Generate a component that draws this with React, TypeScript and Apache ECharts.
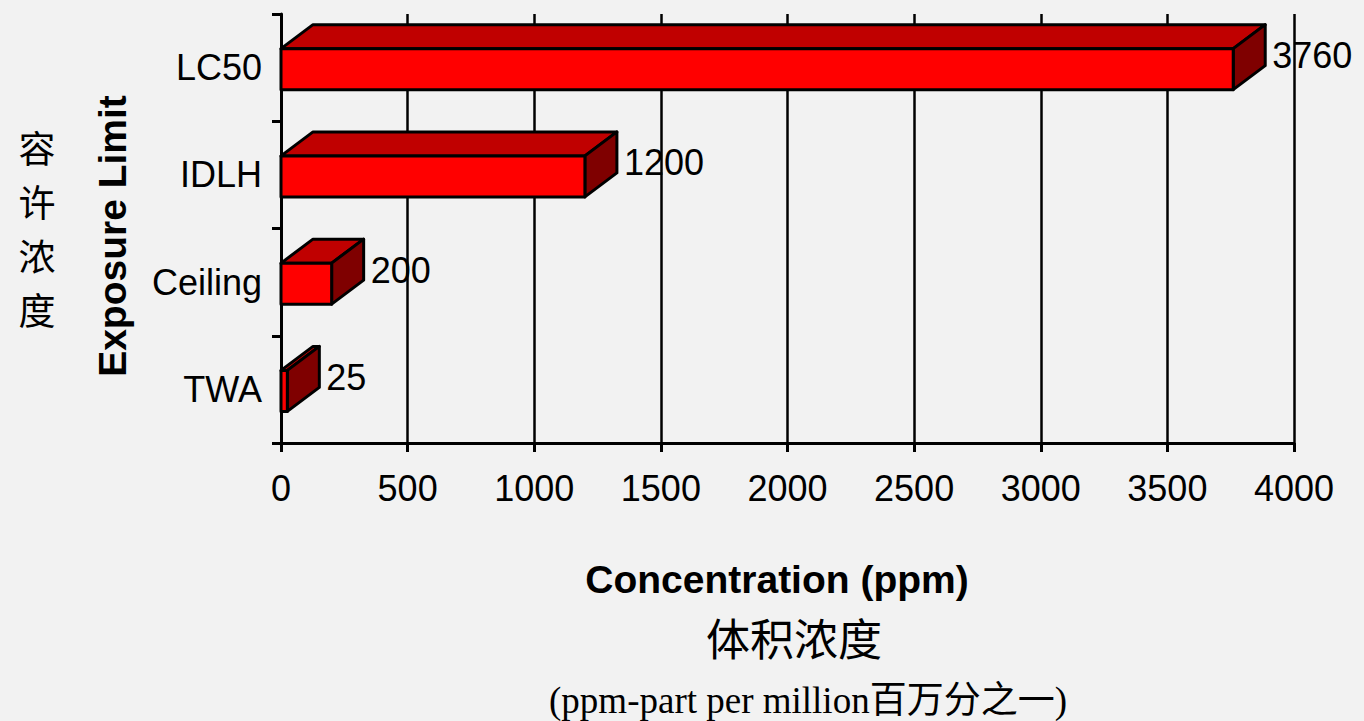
import React, { useEffect, useRef } from "react";
import * as echarts from "echarts";

const categories = ["TWA", "Ceiling", "IDLH", "LC50"];
const values = [25, 200, 1200, 3760];
const xTicks = { min: 0, max: 4000, interval: 500 };
const yTitle = "Exposure Limit";
const yTitleCn = ["容", "许", "浓", "度"];
const xTitle = "Concentration (ppm)";
const xTitleCn = "体积浓度";
const xNote = "(ppm-part per million百万分之一)";

const SANS = "'Liberation Sans', Arial, sans-serif";
const CJK = "'Noto Sans CJK SC', sans-serif";
const SERIF = "'Liberation Serif', 'Noto Sans CJK SC', serif";

export default function App() {
  const ref = useRef<HTMLDivElement>(null);
  useEffect(() => {
    if (!ref.current) return;
    const chart = echarts.init(ref.current, undefined, { renderer: "svg" });
    const dx = 32;
    const dy = 24;
    const h = 41;
    const stroke = "#000";
    const lw = 3;
    chart.setOption({
      animation: false,
      backgroundColor: "#F2F2F2",
      grid: {
        left: 281,
        right: 70,
        top: 14,
        bottom: 278,
        containLabel: false,
        outerBoundsMode: "none",
      },
      xAxis: {
        type: "value",
        min: xTicks.min,
        max: xTicks.max,
        interval: xTicks.interval,
        axisLine: { show: true, lineStyle: { color: "#000", width: 3 } },
        axisTick: { show: true, length: 9, lineStyle: { color: "#000", width: 3 } },
        axisLabel: {
          color: "#000",
          fontSize: 36,
          fontFamily: SANS,
          margin: 27,
          formatter: (v: number) => String(v),
        },
        splitLine: { show: true, lineStyle: { color: "#000", width: 2.5 } },
      },
      yAxis: {
        type: "category",
        data: categories,
        axisLine: { show: true, lineStyle: { color: "#000", width: 3 } },
        axisTick: { show: true, length: 9, alignWithLabel: false, lineStyle: { color: "#000", width: 3 } },
        axisLabel: {
          color: "#000",
          fontSize: 36,
          fontFamily: SANS,
          margin: 19,
        },
        splitLine: { show: false },
      },
      series: [
        {
          type: "custom",
          data: values.map((v, i) => [v, i]),
          encode: { x: 0, y: 1 },
          z: 5,
          renderItem: (params: any, api: any) => {
            const v = api.value(0);
            const c = api.value(1);
            const s = api.coord([0, c]);
            const e = api.coord([v, c]);
            const x0 = s[0];
            const x1 = e[0];
            const y0 = s[1] - h / 2 + 1.5;
            return {
              type: "group",
              children: [
                {
                  type: "polygon",
                  shape: {
                    points: [
                      [x0, y0],
                      [x0 + dx, y0 - dy],
                      [x1 + dx, y0 - dy],
                      [x1, y0],
                    ],
                  },
                  style: { fill: "#C00000", stroke, lineWidth: lw, lineJoin: "round" },
                },
                {
                  type: "polygon",
                  shape: {
                    points: [
                      [x1, y0],
                      [x1 + dx, y0 - dy],
                      [x1 + dx, y0 - dy + h],
                      [x1, y0 + h],
                    ],
                  },
                  style: { fill: "#7F0000", stroke, lineWidth: lw, lineJoin: "round" },
                },
                {
                  type: "rect",
                  shape: { x: x0, y: y0, width: x1 - x0, height: h },
                  style: { fill: "#FF0000", stroke, lineWidth: lw, lineJoin: "round" },
                },
                {
                  type: "text",
                  style: {
                    text: String(v),
                    x: x1 + dx + 7,
                    y: y0 + 7,
                    fill: "#000",
                    fontSize: 36,
                    fontFamily: SANS,
                    align: "left",
                    verticalAlign: "middle",
                  },
                },
              ],
            };
          },
        },
      ],
      graphic: [
        {
          type: "text",
          x: 112,
          y: 236,
          rotation: Math.PI / 2,
          style: {
            text: yTitle,
            fill: "#000",
            fontSize: 39,
            fontWeight: "bold",
            fontFamily: SANS,
            align: "center",
            verticalAlign: "middle",
          },
        },
        ...yTitleCn.map((ch, i) => ({
          type: "text",
          x: 37,
          y: 147 + i * 54,
          style: {
            text: ch,
            fill: "#000",
            fontSize: 37,
            fontFamily: CJK,
            align: "center",
            verticalAlign: "middle",
          },
        })),
        {
          type: "text",
          x: 777,
          y: 579,
          style: {
            text: xTitle,
            fill: "#000",
            fontSize: 39,
            fontWeight: "bold",
            fontFamily: SANS,
            align: "center",
            verticalAlign: "middle",
          },
        },
        {
          type: "text",
          x: 794,
          y: 637,
          style: {
            text: xTitleCn,
            fill: "#000",
            fontSize: 44,
            fontFamily: CJK,
            align: "center",
            verticalAlign: "middle",
          },
        },
        {
          type: "text",
          x: 808,
          y: 700,
          style: {
            text: xNote,
            fill: "#000",
            fontSize: 37,
            fontFamily: SERIF,
            align: "center",
            verticalAlign: "middle",
          },
        },
      ],
    });
    return () => chart.dispose();
  }, []);
  return (
    <div
      ref={ref}
      style={{ position: "fixed", left: 0, top: 0, width: 1364, height: 721 }}
    />
  );
}
